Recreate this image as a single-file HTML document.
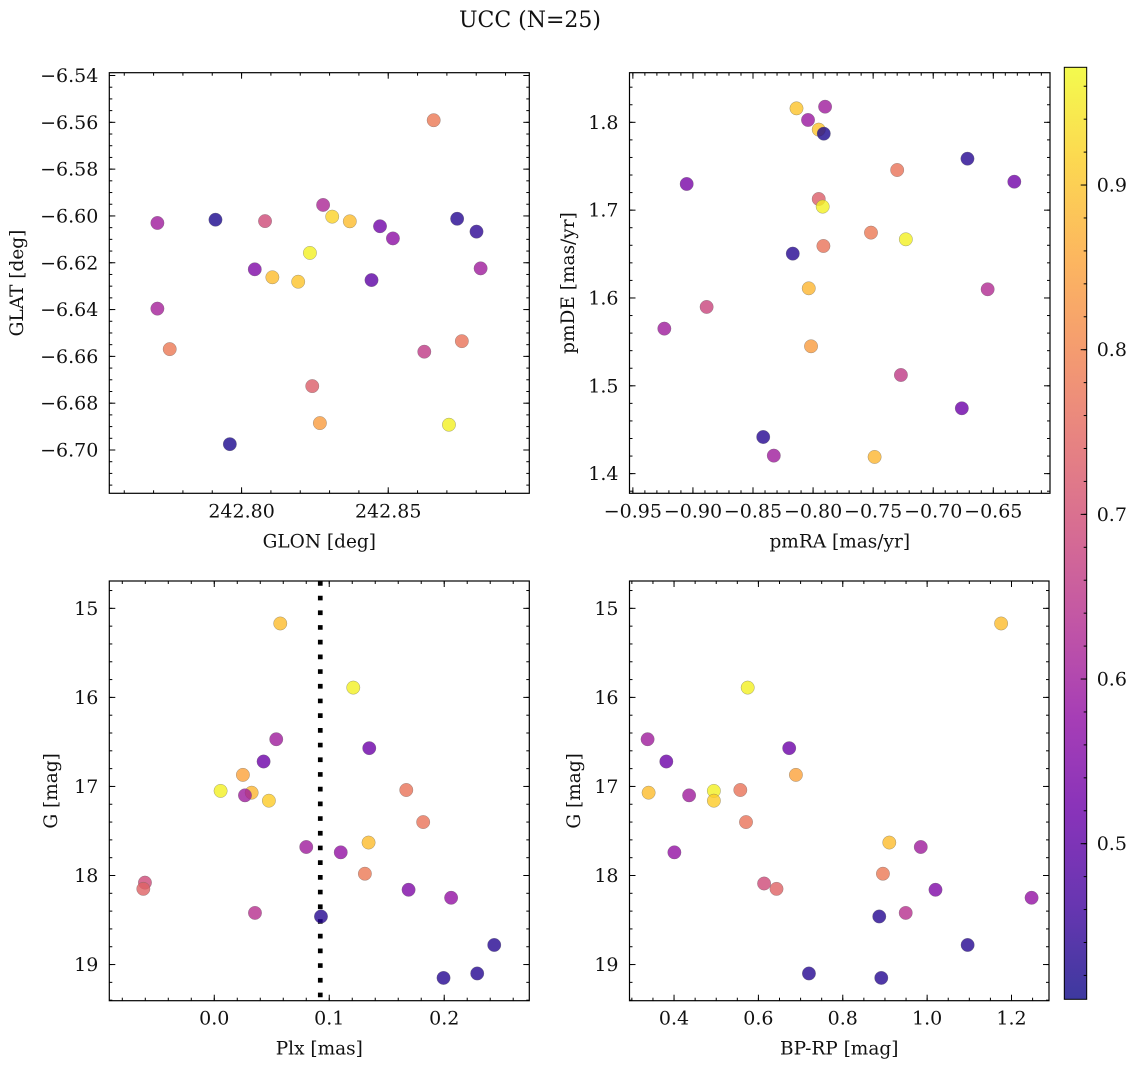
<!DOCTYPE html>
<html><head><meta charset="utf-8"><title>UCC (N=25)</title>
<style>
html,body{margin:0;padding:0;background:#fff;}
svg{display:block;font-family:"DejaVu Serif","Liberation Serif",serif;}
</style></head>
<body>
<svg id="fig" width="1136" height="1067" viewBox="0 0 1136 1067" xmlns="http://www.w3.org/2000/svg">
<text x="530" y="27" font-size="22" text-anchor="middle" fill="#111">UCC (N=25)</text>
</svg>
<script>
// ---- data ----
const p1Lon = [242.7713,242.7911,242.8080,242.8278,242.8309,242.8369,242.8655,242.8472,242.8516,242.8735,242.8801,242.8815,242.8233,242.8045,242.8105,242.8193,242.8443,242.7713,242.7755,242.8623,242.8751,242.8241,242.8267,242.8707,242.7960];
const p1Lat = [-6.6030,-6.6016,-6.6022,-6.5953,-6.6003,-6.6023,-6.5591,-6.6044,-6.6096,-6.6012,-6.6067,-6.6224,-6.6158,-6.6228,-6.6262,-6.6281,-6.6274,-6.6396,-6.6569,-6.6580,-6.6535,-6.6727,-6.6885,-6.6892,-6.6975];
const p1Prob = [0.60,0.42,0.69,0.62,0.92,0.89,0.78,0.53,0.57,0.43,0.44,0.60,0.96,0.55,0.89,0.90,0.50,0.61,0.78,0.66,0.77,0.73,0.84,0.96,0.42];

const p2PmRA = [-0.8138,-0.7900,-0.8042,-0.7953,-0.7911,-0.9052,-0.6715,-0.6325,-0.7300,-0.7953,-0.7920,-0.7228,-0.7518,-0.7914,-0.8169,-0.8036,-0.6547,-0.8886,-0.9238,-0.8017,-0.7269,-0.6762,-0.8415,-0.8327,-0.7488];
const p2PmDE = [1.8159,1.8178,1.8027,1.7917,1.7871,1.7298,1.7586,1.7324,1.7457,1.7127,1.7040,1.6668,1.6744,1.6592,1.6505,1.6110,1.6099,1.5898,1.5651,1.5450,1.5123,1.4744,1.4417,1.4205,1.4190];
const p2Prob = [0.90,0.60,0.59,0.90,0.42,0.54,0.43,0.53,0.77,0.73,0.96,0.96,0.78,0.77,0.43,0.88,0.63,0.68,0.60,0.84,0.66,0.52,0.43,0.60,0.88];

const p3Plx = [0.0574,0.1209,0.0539,0.1348,0.0429,0.0249,0.0055,0.0325,0.0267,0.0475,0.1670,0.1817,0.1342,0.0800,0.1100,0.1310,-0.0603,-0.0617,0.1690,0.2060,0.0354,0.0928,0.2435,0.2287,0.1994];
const p3G = [15.17,15.89,16.47,16.57,16.72,16.87,17.05,17.07,17.10,17.16,17.04,17.40,17.63,17.68,17.74,17.98,18.08,18.15,18.16,18.25,18.42,18.46,18.78,19.10,19.15];
const p3Prob = [0.89,0.96,0.60,0.52,0.52,0.85,0.96,0.88,0.60,0.91,0.77,0.77,0.89,0.60,0.58,0.78,0.69,0.74,0.55,0.58,0.64,0.43,0.43,0.43,0.43];
const plxLine = [0.0922];

const p4BpRp = [1.1754,0.5746,0.3373,0.6730,0.3817,0.6889,0.3397,0.4944,0.4357,0.4944,0.5571,0.5706,0.9103,0.9849,0.4008,0.8952,0.6135,0.6429,1.0198,1.2476,0.9492,0.8865,1.0960,0.7198,0.8913];
const p4G = [15.17,15.89,16.47,16.57,16.72,16.87,17.07,17.05,17.10,17.16,17.04,17.40,17.63,17.68,17.74,17.98,18.09,18.15,18.16,18.25,18.42,18.46,18.78,19.10,19.15];
const p4Prob = [0.89,0.96,0.60,0.52,0.52,0.85,0.89,0.96,0.60,0.91,0.77,0.77,0.89,0.60,0.58,0.78,0.69,0.74,0.55,0.58,0.64,0.43,0.43,0.43,0.43];

const cbarTicks = [0.5,0.6,0.7,0.8,0.9];

// ---- helpers ----
const NS = "http://www.w3.org/2000/svg";
const svg = document.getElementById('fig');
const VMIN = 0.4055, VMAX = 0.9715;
const TICKFS = 19, LABFS = 18.5;
const plasma = [[13,8,135],[65,4,157],[106,0,168],[143,13,164],[177,42,144],[204,71,120],[225,100,98],[242,132,75],[252,166,54],[252,206,37],[240,249,33]];
function cmap(v){
  let t=(v-VMIN)/(VMAX-VMIN); t=Math.max(0,Math.min(1,t));
  const f=t*10, i=Math.min(9,Math.floor(f)), r=f-i;
  const a=plasma[i], b=plasma[i+1];
  return 'rgb('+a.map((c,k)=>Math.round(c+(b[k]-c)*r)).join(',')+')';
}
function el(tag, attrs, parent){
  const e=document.createElementNS(NS,tag);
  for(const k in attrs) e.setAttribute(k,attrs[k]);
  (parent||svg).appendChild(e); return e;
}
function fmt(v,d){ const s=Math.abs(v).toFixed(d); return (v< -1e-9?'\u2212':'')+s; }

function panel(cfg){
  const g=el('g',{});
  
  
  const {x0,x1,y0,y1,xd,yd}=cfg;
  const sx=v=>x0+(v-xd[0])/(xd[1]-xd[0])*(x1-x0);
  const sy=v=>cfg.invert ? y0+(v-yd[0])/(yd[1]-yd[0])*(y1-y0) : y1-(v-yd[0])/(yd[1]-yd[0])*(y1-y0);
  const tg=el('g',{stroke:'#000','stroke-width':1},g);
  function ticksX(step,len,labels,dec){
    const s=Math.ceil(xd[0]/step-1e-6);
    for(let k=s;k*step<=xd[1]+1e-9;k++){
      const v=k*step, x=sx(v);
      el('line',{x1:x,x2:x,y1:y1,y2:y1-len},tg);
      el('line',{x1:x,x2:x,y1:y0,y2:y0+len},tg);
      if(labels){
        const t=el('text',{x:x,y:y1+24,'font-size':TICKFS,'text-anchor':'middle',fill:'#111',stroke:'none'},g);
        
        
        t.textContent=fmt(v,dec);
      }
    }
  }
  function ticksY(step,len,labels,dec){
    const lo=Math.min(yd[0],yd[1]), hi=Math.max(yd[0],yd[1]);
    const s=Math.ceil(lo/step-1e-6);
    for(let k=s;k*step<=hi+1e-9;k++){
      const v=k*step, y=sy(v);
      el('line',{x1:x0,x2:x0+len,y1:y,y2:y},tg);
      el('line',{x1:x1,x2:x1-len,y1:y,y2:y},tg);
      if(labels){
        const t=el('text',{x:x0-11,y:y+6.5,'font-size':TICKFS,'text-anchor':'end',fill:'#111',stroke:'none'},g);
        
        
        t.textContent=fmt(v,dec);
      }
    }
  }
  ticksX(cfg.xMinor,3,false); ticksX(cfg.xMajor,6,true,cfg.xDec);
  ticksY(cfg.yMinor,3,false); ticksY(cfg.yMajor,6,true,cfg.yDec);
  if(cfg.vline){
    cfg.vline.forEach(v=>{
      const l=el('line',{x1:sx(v),x2:sx(v),y1:y0,y2:y1,stroke:'#000','stroke-width':4.7,'stroke-dasharray':'4.7 10'},g);
      
      
    });
  }
  const pg=el('g',{},g);
  
  
  cfg.xs.forEach((xv,i)=>{
    const c=el('circle',{cx:sx(xv),cy:sy(cfg.ys[i]),r:6.7,fill:cmap(cfg.cs[i]),'fill-opacity':0.8,stroke:'#666','stroke-opacity':0.6,'stroke-width':0.5},pg);
    
    
  });
  const fr=el('rect',{x:x0,y:y0,width:x1-x0,height:y1-y0,fill:'none',stroke:'#000','stroke-width':1.2},g);
  
  
  const xl=el('text',{x:(x0+x1)/2,y:y1+54,'font-size':LABFS,'text-anchor':'middle',fill:'#111'},g);
  
  
  xl.textContent=cfg.xlabel;
  const yx=cfg.ylabelX, yy=(y0+y1)/2;
  const yl=el('text',{x:yx,y:yy,'font-size':LABFS,'text-anchor':'middle',fill:'#111',transform:'rotate(-90 '+yx+' '+yy+')'},g);
  
  
  yl.textContent=cfg.ylabel;
}

panel({name:'glon-glat-panel',x0:109.3,x1:529.3,y0:72.7,y1:493.3,xd:[242.7549,242.8981],yd:[-6.7185,-6.5388],
  xMajor:0.05,xMinor:0.01,yMajor:0.02,yMinor:0.005,xDec:2,yDec:2,xs:p1Lon,ys:p1Lat,cs:p1Prob,
  xlabel:'GLON [deg]',ylabel:'GLAT [deg]',ylabelX:23});
panel({name:'pm-panel',x0:629.5,x1:1050,y0:72.7,y1:493.3,xd:[-0.9528,-0.6028],yd:[1.3776,1.8565],
  xMajor:0.05,xMinor:0.01,yMajor:0.1,yMinor:0.02,xDec:2,yDec:1,xs:p2PmRA,ys:p2PmDE,cs:p2Prob,
  xlabel:'pmRA [mas/yr]',ylabel:'pmDE [mas/yr]',ylabelX:574});
panel({name:'plx-g-panel',x0:109.3,x1:529.3,y0:581,y1:1000.7,xd:[-0.0913,0.274],yd:[14.693,19.406],invert:true,
  xMajor:0.1,xMinor:0.02,yMajor:1,yMinor:0.2,xDec:1,yDec:0,xs:p3Plx,ys:p3G,cs:p3Prob,vline:plxLine,
  xlabel:'Plx [mas]',ylabel:'G [mag]',ylabelX:57});
panel({name:'cmd-panel',x0:629.5,x1:1049,y0:581,y1:1000.7,xd:[0.2944,1.2889],yd:[14.693,19.406],invert:true,
  xMajor:0.2,xMinor:0.05,yMajor:1,yMinor:0.2,xDec:1,yDec:0,xs:p4BpRp,ys:p4G,cs:p4Prob,
  xlabel:'BP-RP [mag]',ylabel:'G [mag]',ylabelX:580});

// colorbar
(function(){
  const cx0=1064.3,cx1=1086.7,cy0=67.3,cy1=999.3;
  const g=el('g',{});
  
  
  const defs=el('defs',{},g);
  const lg=el('linearGradient',{id:'cbg',x1:0,y1:1,x2:0,y2:0},defs);
  for(let i=0;i<=20;i++){
    const v=VMIN+(VMAX-VMIN)*i/20;
    el('stop',{offset:(i/20),'stop-color':cmap(v),'stop-opacity':0.8},lg);
  }
  el('rect',{x:cx0,y:cy0,width:cx1-cx0,height:cy1-cy0,fill:'url(#cbg)',stroke:'#000','stroke-width':1},g);
  const sy=v=>cy1-(v-VMIN)/(VMAX-VMIN)*(cy1-cy0);
  for(let k=Math.ceil(VMIN/0.02);k*0.02<=VMAX;k++){
    const y=sy(k*0.02);
    el('line',{x1:cx1,x2:cx1-3,y1:y,y2:y,stroke:'#000','stroke-width':1},g);
  }
  cbarTicks.forEach(v=>{
    const y=sy(v);
    el('line',{x1:cx1,x2:cx1-6,y1:y,y2:y,stroke:'#000','stroke-width':1},g);
    const t=el('text',{x:cx1+10,y:y+6.5,'font-size':TICKFS,fill:'#111'},g);
    
    
    t.textContent=v.toFixed(1);
  });
})();
</script>
</body></html>
